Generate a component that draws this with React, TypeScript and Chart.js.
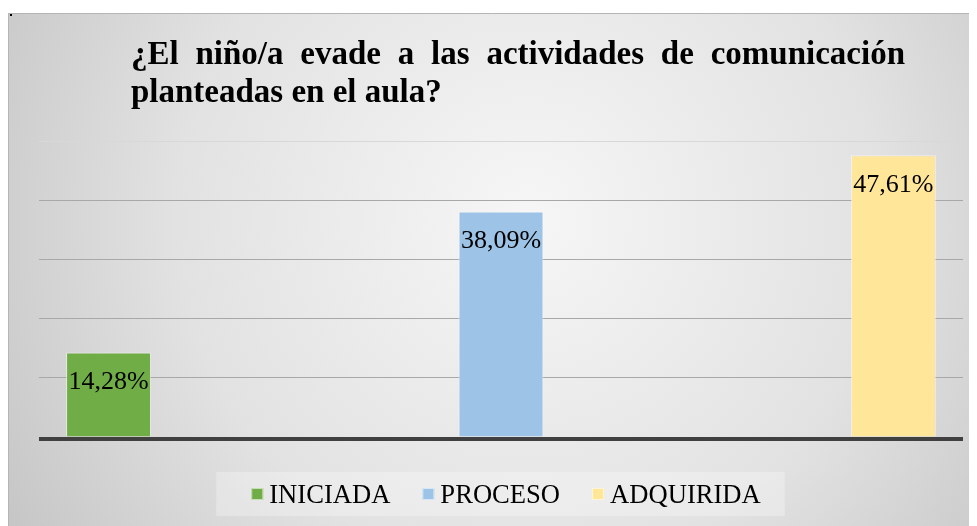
import React, { useEffect, useRef } from "react";
import { Chart, registerables } from "chart.js";

Chart.register(...registerables);

const categories = [""];
const seriesLabels = ["INICIADA", "PROCESO", "ADQUIRIDA"];
const seriesValues = [14.28, 38.09, 47.61];
const seriesColors = ["#70AD47", "#9DC3E6", "#FFE699"];
const titleLines = [
  "¿El niño/a evade a las actividades de comunicación",
  "planteadas en el aula?",
];
const yMin = 0;
const yMax = 50;
const yStep = 10;

const SERIF = "'Liberation Serif', 'Times New Roman', 'DejaVu Serif', serif";

const fmt = (v: number) => v.toFixed(2).replace(".", ",") + "%";

const backgroundPlugin = {
  id: "bgFrame",
  beforeDraw(chart: any) {
    const { ctx, width, height } = chart;
    ctx.save();
    ctx.fillStyle = "#ffffff";
    ctx.fillRect(0, 0, width, height);
    const top = 5;
    const g = ctx.createRadialGradient(520, 210, 0, 520, 210, 640);
    g.addColorStop(0, "#f6f6f6");
    g.addColorStop(0.55, "#e2e2e2");
    g.addColorStop(1, "#c2c2c2");
    ctx.fillStyle = g;
    ctx.fillRect(0, top, width, height - top);
    ctx.strokeStyle = "#b5b5b5";
    ctx.lineWidth = 1;
    ctx.beginPath();
    ctx.moveTo(0.5, height);
    ctx.lineTo(0.5, top + 0.5);
    ctx.lineTo(width, top + 0.5);
    ctx.stroke();
    ctx.fillStyle = "#000";
    ctx.fillRect(2, 6, 2, 2);
    ctx.restore();
  },
};

const titlePlugin = {
  id: "justTitle",
  afterDraw(chart: any) {
    const { ctx } = chart;
    ctx.save();
    ctx.font = `bold 33px ${SERIF}`;
    ctx.fillStyle = "#000";
    ctx.textBaseline = "alphabetic";
    ctx.textAlign = "left";
    const left = 123;
    const right = 897;
    const baselines = [56, 94];
    titleLines.forEach((line, li) => {
      const words = line.split(" ");
      if (li < titleLines.length - 1 && words.length > 1) {
        const total = words.reduce((s, w) => s + ctx.measureText(w).width, 0);
        const gap = (right - left - total) / (words.length - 1);
        let x = left;
        words.forEach((w) => {
          ctx.fillText(w, x, baselines[li]);
          x += ctx.measureText(w).width + gap;
        });
      } else {
        ctx.fillText(line, left, baselines[li]);
      }
    });
    ctx.restore();
  },
};

const labelsPlugin = {
  id: "barLabels",
  afterDatasetsDraw(chart: any) {
    const { ctx } = chart;
    const yScale = chart.scales.y;
    const area = chart.chartArea;
    ctx.save();
    const y0 = yScale.getPixelForValue(0);
    ctx.fillStyle = "#404040";
    ctx.fillRect(area.left, y0, area.right - area.left, 4);
    ctx.font = `26px ${SERIF}`;
    ctx.fillStyle = "#000";
    ctx.textAlign = "center";
    ctx.textBaseline = "middle";
    chart.data.datasets.forEach((ds: any, i: number) => {
      const meta = chart.getDatasetMeta(i);
      meta.data.forEach((el: any, j: number) => {
        const v = ds.data[j];
        if (v == null) return;
        ctx.fillText(fmt(v), el.x, el.y + 30);
      });
    });
    ctx.restore();
  },
};

const legendPlugin = {
  id: "customLegend",
  afterDraw(chart: any) {
    const { ctx, chartArea } = chart;
    ctx.save();
    ctx.font = `26.6px ${SERIF}`;
    const box = 12;
    const boxGap = 6;
    const itemGap = 32;
    const items = chart.data.datasets.map((ds: any) => ({
      label: ds.label,
      color: ds.backgroundColor,
      w: ctx.measureText(ds.label).width,
    }));
    const total =
      items.reduce((s: number, it: any) => s + box + boxGap + it.w, 0) +
      itemGap * (items.length - 1);
    const cx = (chartArea.left + chartArea.right) / 2 + 5;
    let x = cx - total / 2;
    const boxTop = 464;
    const boxBottom = 508;
    ctx.fillStyle = "rgba(255,255,255,0.28)";
    ctx.fillRect(x - 35, boxTop, total + 59, boxBottom - boxTop);
    const textBase = 495;
    items.forEach((it: any) => {
      ctx.fillStyle = it.color;
      ctx.fillRect(x, 480, box, box);
      ctx.strokeStyle = "rgba(255,255,255,0.6)";
      ctx.lineWidth = 1;
      ctx.strokeRect(x + 0.5, 480.5, box - 1, box - 1);
      ctx.fillStyle = "#000";
      ctx.textBaseline = "alphabetic";
      ctx.textAlign = "left";
      ctx.fillText(it.label, x + box + boxGap, textBase);
      x += box + boxGap + it.w + itemGap;
    });
    ctx.restore();
  },
};

export default function App() {
  const ref = useRef<HTMLCanvasElement>(null);
  useEffect(() => {
    if (!ref.current) return;
    let chart: any = null;
    let cancelled = false;
    const build = () => {
      if (cancelled || !ref.current) return;
      chart = new Chart(ref.current, {
        type: "bar",
        data: {
          labels: categories,
          datasets: seriesLabels.map((label, i) => ({
            label,
            data: [seriesValues[i]],
            backgroundColor: seriesColors[i],
            borderColor: "rgba(255,255,255,0.55)",
            borderWidth: 1,
            categoryPercentage: 1.274,
            barPercentage: 0.2166,
          })),
        },
        options: {
          responsive: false,
          animation: false,
          devicePixelRatio: 1,
          layout: { padding: { left: 31, right: 14, top: 133, bottom: 89 } },
          plugins: {
            legend: { display: false },
            title: { display: false },
            tooltip: { enabled: false },
          },
          scales: {
            x: { display: false, offset: true },
            y: {
              min: yMin,
              max: yMax,
              ticks: { display: false, stepSize: yStep },
              border: { display: false },
              grid: {
                drawTicks: false,
                lineWidth: 1,
                color: (c: any) =>
                  c.tick && c.tick.value === yMax
                    ? "#d8d8d8"
                    : c.tick && c.tick.value === yMin
                    ? "rgba(0,0,0,0)"
                    : "#a8a8a8",
              },
            },
          },
        },
        plugins: [backgroundPlugin, titlePlugin, labelsPlugin, legendPlugin],
      });
    };
    const fonts: any = (document as any).fonts;
    if (fonts && fonts.load) {
      Promise.all([
        fonts.load("bold 33px 'Liberation Serif'"),
        fonts.load("26px 'Liberation Serif'"),
      ])
        .catch(() => null)
        .then(build);
    } else {
      build();
    }
    return () => {
      cancelled = true;
      if (chart) chart.destroy();
    };
  }, []);
  return (
    <div>
      <span
        style={{
          fontFamily: "'Liberation Serif'",
          position: "absolute",
          left: -9999,
          top: 0,
        }}
      >
        <b>ñ</b>a
      </span>
      <canvas
        ref={ref}
        width={969}
        height={518}
        style={{ display: "block", width: 969, height: 518 }}
      />
    </div>
  );
}
